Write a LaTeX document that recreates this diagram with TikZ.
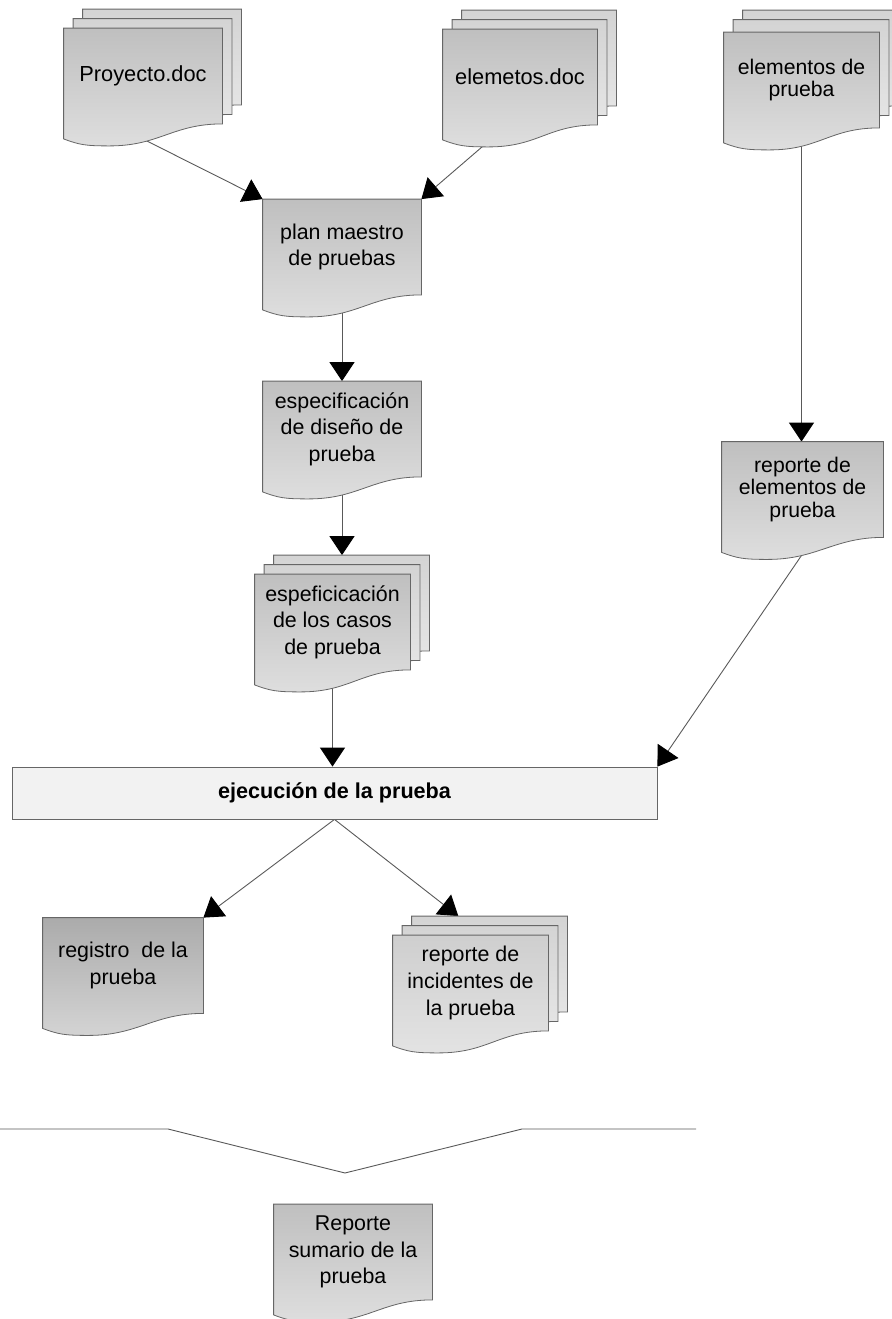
\documentclass[tikz,border=0pt]{standalone}
\usepackage{fontspec}
\setmainfont{Liberation Sans}
\usetikzlibrary{arrows.meta,calc}
\pgfdeclarelayer{bg}
\pgfsetlayers{bg,main}

% document sheet with a wavy lower edge
\newcommand{\docoutline}[2]{%
  \path[#1] (#2.north west) -- (#2.north east) -- (#2.south east)
    .. controls +(-25pt,0pt) and +(25pt,0pt) .. ($(#2.south west)+(23pt,-11pt)$)
    .. controls +(-12pt,0pt) and +(8pt,-3pt) .. ($(#2.south west)+(0pt,-7.5pt)$) -- cycle;}

\begin{document}
\begin{tikzpicture}[
  x=0.5pt, y=-0.5pt,
  every node/.style={font=\fontsize{10.7}{13.3}\selectfont, align=center, inner sep=0pt},
  doc/.style={minimum width=79pt, minimum height=47.5pt},
  narrow/.style={font=\fontsize{10.6}{11.2}\selectfont},
  sheet/.style={draw=black!60, line width=0.4pt, top color=black!25, bottom color=black!13},
  backsheet/.style={draw=black!60, line width=0.4pt, top color=black!17, bottom color=black!9},
  darksheet/.style={draw=black!60, line width=0.4pt, top color=black!33, bottom color=black!17},
  lightsheet/.style={draw=black!60, line width=0.4pt, top color=black!19, bottom color=black!11},
  link/.style={draw=black!65, line width=0.45pt, -{Triangle[width=12.5pt,length=9.5pt,color=black]}},
  execbox/.style={draw=black!60, line width=0.4pt, fill=black!5, minimum width=322.5pt, minimum height=26pt,
    font=\fontsize{10.8}{13}\selectfont\bfseries}
]
\useasboundingbox (0,0) rectangle (891,1319);

% input documents
\node[doc] (proyC) at (162,57) {};
\node[doc] (proyB) at (152.5,66.5) {};
\node[doc] (proyA) at (143,76) {\fontsize{10.9}{13}\selectfont Proyecto.doc};

\node[doc, minimum width=77pt] (elemC) at (539,58) {};
\node[doc, minimum width=77pt] (elemB) at (529.5,67.5) {};
\node[doc, minimum width=77pt] (elemA) at (520,77) {\fontsize{10.9}{13}\selectfont elemetos.doc};

\node[doc, minimum width=77.5pt] (itemsC) at (820.5,58) {};
\node[doc, minimum width=77.5pt] (itemsB) at (811,67.5) {};
\node[doc, minimum width=77.5pt, narrow] (itemsA) at (801.5,80) {elementos de\\prueba};

% central column
\node[doc] (plan) at (342,247) {plan maestro\\de pruebas};
\node[doc] (diseno) at (342,429) {especificación\\de diseño de\\prueba};

\node[doc, minimum width=77.5pt] (casosC) at (351.5,603) {};
\node[doc, minimum width=77.5pt] (casosB) at (342,612.5) {};
\node[doc, minimum width=77.5pt] (casosA) at (332.5,622) {espeficicación\\de los casos\\de prueba};

\node[doc, minimum width=80.5pt, narrow] (repEl) at (802.5,489.5) {reporte de\\elementos de\\prueba};

\node[execbox] (ejec) at (334.5,793) {ejecución de la prueba};

% results
\node[doc, minimum width=80pt] (registro) at (123,965.5) {registro\ \ de la\\prueba};

\node[doc, minimum width=77.5pt] (incC) at (489.5,964) {};
\node[doc, minimum width=77.5pt] (incB) at (480,973.5) {};
\node[doc, minimum width=77.5pt] (incA) at (470.5,983) {reporte de\\incidentes de\\la prueba};

\node[doc] (sumario) at (353,1252) {Reporte\\sumario de la\\prueba};

\begin{pgfonlayer}{bg}
  \draw[link] ($(proyA.south west)!0.31!(proyA.south east)$) -- (plan.north west);
  \draw[link] ($(elemA.south west)!0.42!(elemA.south east)$) -- (plan.north east);
  \draw[link] (itemsA.south) -- (itemsA.south |- repEl.north);
  \draw[link] (plan.south) -- (diseno.north);
  \draw[link] (diseno.south) -- (diseno.south |- casosC.north);
  \draw[link] (casosA.south) -- (casosA.south |- ejec.north);
  \draw[link] ($(repEl.south west)!0.57!(repEl.south east)$) -- (ejec.north east);
  \draw[link] (ejec.south) -- (registro.north east);
  \draw[link] (ejec.south) -- ($(incC.north west)!0.3!(incC.north east)$);

  \docoutline{backsheet}{proyC}
  \docoutline{backsheet}{proyB}
  \docoutline{sheet}{proyA}
  \docoutline{backsheet}{elemC}
  \docoutline{backsheet}{elemB}
  \docoutline{sheet}{elemA}
  \docoutline{backsheet}{itemsC}
  \docoutline{backsheet}{itemsB}
  \docoutline{sheet}{itemsA}
  \docoutline{sheet}{plan}
  \docoutline{sheet}{diseno}
  \docoutline{backsheet}{casosC}
  \docoutline{backsheet}{casosB}
  \docoutline{sheet}{casosA}
  \docoutline{sheet}{repEl}
  \docoutline{darksheet}{registro}
  \docoutline{backsheet}{incC}
  \docoutline{backsheet}{incB}
  \docoutline{lightsheet}{incA}
  \docoutline{sheet}{sumario}
\end{pgfonlayer}

% bracket over the summary report
\draw[black!65, line width=0.45pt] (0,1129) -- (168,1129) -- (345,1173) -- (522,1129) -- (696,1129);
\end{tikzpicture}
\end{document}
